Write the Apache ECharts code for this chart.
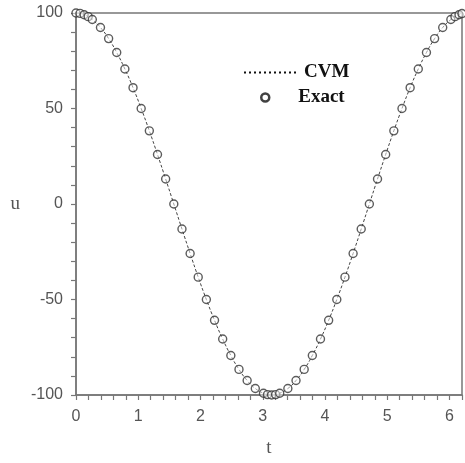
<!DOCTYPE html>
<html>
<head>
<meta charset="utf-8">
<script src="https://cdn.jsdelivr.net/npm/echarts@6/dist/echarts.min.js"></script>
<style>
  html, body { margin: 0; padding: 0; background: #fff; }
  #chart { width: 465px; height: 463px; }
</style>
</head>
<body>
<div id="chart"></div>
<script>
// values
const tValues = [0, 0.065, 0.131, 0.196, 0.262, 0.393, 0.524, 0.654, 0.785, 0.916, 1.047, 1.178,
  1.309, 1.44, 1.571, 1.702, 1.833, 1.963, 2.094, 2.225, 2.356, 2.487, 2.618, 2.749, 2.88,
  3.011, 3.076, 3.142, 3.207, 3.272, 3.403, 3.534, 3.665, 3.796, 3.927, 4.058, 4.189, 4.32,
  4.451, 4.581, 4.712, 4.843, 4.974, 5.105, 5.236, 5.367, 5.498, 5.629, 5.76, 5.89, 6.021,
  6.087, 6.152, 6.2]
const exactU = [100, 99.8, 99.1, 98.1, 96.6, 92.4, 86.6, 79.3, 70.7, 60.9, 50, 38.3,
  25.9, 13.1, 0, -13.1, -25.9, -38.3, -50, -60.9, -70.7, -79.3, -86.6, -92.4, -96.6,
  -99.1, -99.8, -100, -99.8, -99.1, -96.6, -92.4, -86.6, -79.3, -70.7, -60.9, -50, -38.3,
  -25.9, -13.1, 0, 13.1, 25.9, 38.3, 50, 60.9, 70.7, 79.3, 86.6, 92.4, 96.6,
  98.1, 99.1, 99.7]
const cvmU = [100, 99.8, 99.1, 98.1, 96.6, 92.4, 86.6, 79.3, 70.7, 60.9, 50, 38.3,
  25.9, 13.1, 0, -13.1, -25.9, -38.3, -50, -60.9, -70.7, -79.3, -86.6, -92.4, -96.6,
  -99.1, -99.8, -100, -99.8, -99.1, -96.6, -92.4, -86.6, -79.3, -70.7, -60.9, -50, -38.3,
  -25.9, -13.1, 0, 13.1, 25.9, 38.3, 50, 60.9, 70.7, 79.3, 86.6, 92.4, 96.6,
  98.1, 99.1, 99.7]

const axisColor = '#777'
const labelColor = '#555'
const legendFont = { color: '#111', fontFamily: 'Liberation Serif', fontWeight: 'bold', fontSize: 19 }

const pairs = (xs, ys) => xs.map((x, i) => [x, ys[i]])
const isMultiple = (v, step) => Math.abs(v / step - Math.round(v / step)) < 1e-6

const myChart = echarts.init(document.getElementById('chart'))
myChart.setOption({
  animation: false,
  grid: {
    left: 76,
    right: 3,
    top: 13,
    bottom: 62,
    show: true,
    borderColor: axisColor,
    borderWidth: 1.5
  },
  legend: [
    {
      data: ['CVM'],
      left: 238,
      top: 58,
      itemWidth: 52,
      itemHeight: 10,
      itemStyle: { opacity: 0 },
      lineStyle: { type: [2, 3], width: 2, color: '#111' },
      textStyle: { ...legendFont, padding: [0, 0, 0, 3] }
    },
    {
      data: [{ name: 'Exact', icon: 'circle' }],
      left: 255,
      top: 83,
      itemWidth: 8,
      itemHeight: 8,
      itemStyle: { color: '#fff', borderColor: '#111', borderWidth: 2.5 },
      textStyle: { ...legendFont, padding: [0, 0, 0, 24] }
    }
  ],
  xAxis: {
    type: 'value',
    min: 0,
    max: 6.2,
    interval: 0.2,
    name: 't',
    nameLocation: 'middle',
    nameGap: 44,
    nameTextStyle: { color: labelColor, fontFamily: 'Liberation Serif', fontSize: 19 },
    axisLine: { onZero: false, lineStyle: { color: axisColor, width: 1.5 } },
    axisTick: { length: 5, lineStyle: { color: axisColor, width: 1.2 } },
    splitLine: { show: false },
    axisLabel: {
      interval: 0,
      margin: 14,
      color: labelColor,
      fontFamily: 'Liberation Sans',
      fontSize: 16,
      formatter: v => isMultiple(v, 1) ? String(Math.round(v)) : ''
    }
  },
  yAxis: {
    type: 'value',
    min: -100,
    max: 100,
    interval: 10,
    name: 'u',
    nameLocation: 'middle',
    nameRotate: 0,
    nameGap: 56,
    nameTextStyle: { color: labelColor, fontFamily: 'Liberation Serif', fontSize: 19 },
    axisLine: { onZero: false, lineStyle: { color: axisColor, width: 1.5 } },
    axisTick: { length: 5, lineStyle: { color: axisColor, width: 1.2 } },
    splitLine: { show: false },
    axisLabel: {
      interval: 0,
      margin: 13,
      color: labelColor,
      fontFamily: 'Liberation Sans',
      fontSize: 16,
      formatter: v => isMultiple(v, 50) ? String(Math.round(v)) : ''
    }
  },
  series: [
    {
      name: 'CVM',
      type: 'line',
      data: pairs(tValues, cvmU),
      smooth: true,
      symbol: 'none',
      lineStyle: { color: '#444', width: 1, type: [3, 2] },
      z: 2
    },
    {
      name: 'Exact',
      type: 'scatter',
      data: pairs(tValues, exactU),
      symbol: 'circle',
      symbolSize: 8,
      itemStyle: { color: 'rgba(255,255,255,0.6)', borderColor: '#333', borderWidth: 1.4 },
      z: 3
    }
  ]
})
</script>
</body>
</html>
